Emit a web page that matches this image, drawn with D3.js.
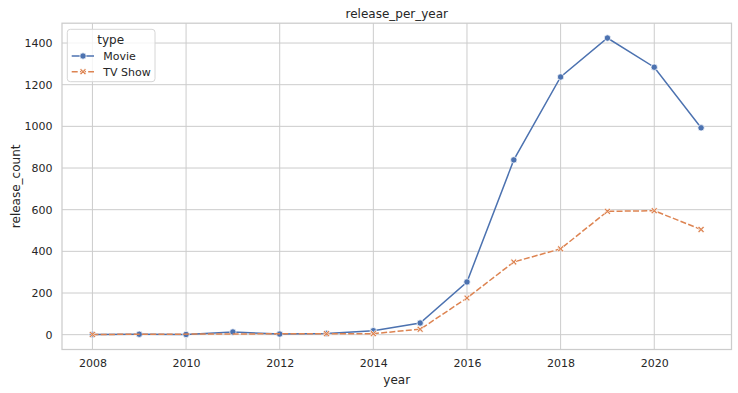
<!DOCTYPE html>
<html><head><meta charset="utf-8">
<script src="https://cdn.jsdelivr.net/npm/d3@7"></script>
<style>body{margin:0;background:#fff}svg{display:block;font-family:"DejaVu Sans",sans-serif}</style>
</head><body><svg id="c" width="738" height="393"></svg>
<script>
const movieYears = [2008,2009,2010,2011,2012,2013,2014,2015,2016,2017,2018,2019,2020,2021];
const movieCounts = [1,2,1,13,3,6,19,56,253,839,1237,1424,1284,993];
const tvYears = [2008,2013,2014,2015,2016,2017,2018,2019,2020,2021];
const tvCounts = [1,5,5,26,176,349,412,592,595,505];
const xTicks = [2008,2010,2012,2014,2016,2018,2020];
const yTicks = [0,200,400,600,800,1000,1200,1400];
const seriesNames = ["Movie","TV Show"];
const colors = ["#4c72b0","#dd8452"];

const svg = d3.select("#c");
const L=62, R=731.5, T=23.2, B=349.5;
const x = d3.scaleLinear().domain([2007.35,2021.65]).range([L,R]);
const y = d3.scaleLinear().domain([-71.2,1495.2]).range([B,T]);
const ink="#262626", grid="#cccccc";

// grid
svg.append("g").selectAll("line").data(xTicks).join("line")
  .attr("x1",d=>x(d)).attr("x2",d=>x(d)).attr("y1",T).attr("y2",B)
  .attr("stroke",grid).attr("stroke-width",1);
svg.append("g").selectAll("line").data(yTicks).join("line")
  .attr("x1",L).attr("x2",R).attr("y1",d=>y(d)).attr("y2",d=>y(d))
  .attr("stroke",grid).attr("stroke-width",1);
svg.append("rect").attr("x",L).attr("y",T).attr("width",R-L).attr("height",B-T)
  .attr("fill","none").attr("stroke",grid).attr("stroke-width",1.25);

// axes via d3
const xa = svg.append("g").attr("transform",`translate(0,${B})`)
  .call(d3.axisBottom(x).tickValues(xTicks).tickFormat(d3.format("d")).tickSize(0).tickPadding(10));
const ya = svg.append("g").attr("transform",`translate(${L},0)`)
  .call(d3.axisLeft(y).tickValues(yTicks).tickFormat(d3.format("d")).tickSize(0).tickPadding(9.5));
[xa,ya].forEach(a=>{a.select(".domain").remove();
  a.selectAll("text").attr("fill",ink).attr("font-size",11).attr("font-family","DejaVu Sans");});

// labels
svg.append("text").attr("x",(L+R)/2).attr("y",17.5).attr("text-anchor","middle")
  .attr("font-size",12).attr("fill",ink).text("release_per_year");
svg.append("text").attr("x",(L+R)/2).attr("y",383.5).attr("text-anchor","middle")
  .attr("font-size",12).attr("fill",ink).text("year");
svg.append("text").attr("transform",`translate(19.5,${(T+B)/2}) rotate(-90)`).attr("text-anchor","middle")
  .attr("font-size",12).attr("fill",ink).text("release_count");

const line = d3.line().x(d=>x(d[0])).y(d=>y(d[1]));
const movie = movieYears.map((yr,i)=>[yr,movieCounts[i]]);
const tv = tvYears.map((yr,i)=>[yr,tvCounts[i]]);

function xMarker(g, cx, cy, s, color){
  const a=s/2, w=s*0.2;
  const p = d3.path();
  const pts=[[-a,-a+w],[-a+w,-a],[0,-w],[a-w,-a],[a,-a+w],[w,0],[a,a-w],[a-w,a],[0,w],[-a+w,a],[-a,a-w],[-w,0]];
  pts.forEach((q,i)=> i? p.lineTo(cx+q[0],cy+q[1]) : p.moveTo(cx+q[0],cy+q[1]));
  p.closePath();
  g.append("path").attr("d",p.toString()).attr("fill",color).attr("stroke","#fff").attr("stroke-width",0.75);
}

// movie
svg.append("path").datum(movie).attr("d",line).attr("fill","none").attr("stroke",colors[0]).attr("stroke-width",1.5);
const mg = svg.append("g");
mg.selectAll("circle").data(movie).join("circle").attr("cx",d=>x(d[0])).attr("cy",d=>y(d[1])).attr("r",3.2)
  .attr("fill",colors[0]).attr("stroke","#fff").attr("stroke-width",0.75);
// tv
svg.append("path").datum(tv).attr("d",line).attr("fill","none").attr("stroke",colors[1]).attr("stroke-width",1.5)
  .attr("stroke-dasharray","6,2.25");
const tg = svg.append("g");
tv.forEach(d=>xMarker(tg,x(d[0]),y(d[1]),6.5,colors[1]));

// legend
const lg = svg.append("g");
lg.append("rect").attr("x",67.3).attr("y",29.3).attr("width",87.7).attr("height",52.4).attr("rx",3)
  .attr("fill","#fff").attr("fill-opacity",0.8).attr("stroke","#d6d6d6").attr("stroke-width",1);
lg.append("text").attr("x",110.7).attr("y",44).attr("text-anchor","middle").attr("font-size",12).attr("fill",ink).text("type");
const ly=[56,71.7];
seriesNames.forEach((n,i)=>{
  const l=lg.append("line").attr("x1",71.7).attr("x2",94).attr("y1",ly[i]).attr("y2",ly[i])
    .attr("stroke",colors[i]).attr("stroke-width",1.5);
  if(i===1) l.attr("stroke-dasharray","6,2.25");
  if(i===0) lg.append("circle").attr("cx",83).attr("cy",ly[i]).attr("r",3.2).attr("fill",colors[0]).attr("stroke","#fff").attr("stroke-width",0.75);
  else xMarker(lg,83,ly[i],6.5,colors[1]);
  lg.append("text").attr("x",103.3).attr("y",ly[i]+4).attr("font-size",11).attr("fill",ink).text(n);
});
</script></body></html>
